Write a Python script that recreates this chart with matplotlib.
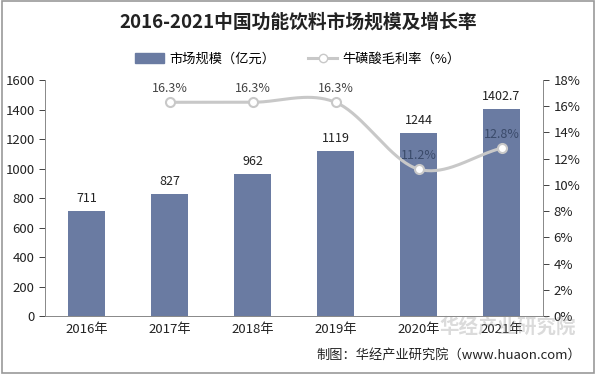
import numpy as np
import matplotlib
matplotlib.use("Agg")
import matplotlib.pyplot as plt
from matplotlib.patches import Rectangle

plt.rcParams['font.family'] = ['Noto Sans CJK SC', 'DejaVu Sans']

years = ['2016年', '2017年', '2018年', '2019年', '2020年', '2021年']
market = [711, 827, 962, 1119, 1244, 1402.7]
market_labels = ['711', '827', '962', '1119', '1244', '1402.7']
margin_years_idx = [1, 2, 3, 4, 5]
margin = [16.3, 16.3, 16.3, 11.2, 12.8]

W, H = 596, 374
fig = plt.figure(figsize=(W/100, H/100), dpi=100)
fig.patch.set_facecolor('white')
fig.add_artist(Rectangle((0.003, 0.003), 0.994, 0.994, transform=fig.transFigure,
                         fill=False, edgecolor='#999999', lw=1.2))

ax = fig.add_axes([45/W, 1-316/H, (543-45)/W, (316-80)/H])
ax2 = ax.twinx()
x = np.arange(len(years))
bar_color = '#6A7BA2'
ax.bar(x, market, width=0.44, color=bar_color, zorder=2)
for xi, v, lab in zip(x, market, market_labels):
    ax.text(xi, v + 40, lab, ha='center', va='bottom', fontsize=9, color='#222222')
ax.set_xlim(-0.5, len(years) - 0.5)
ax.set_ylim(0, 1600)
ax.set_yticks(range(0, 1601, 200))
ax.set_xticks(x)
ax.set_xticklabels(years, fontsize=9.5, color='#222222')
ax.tick_params(axis='y', labelsize=9.5, colors='#222222', length=4, direction='out', width=0.6)
ax.tick_params(axis='x', length=0, pad=5)
for s in ['top', 'right']:
    ax.spines[s].set_visible(False)
ax.spines['left'].set_color('#888888')
ax.spines['bottom'].set_color('#888888')
ax.spines['left'].set_linewidth(0.7)
ax.spines['bottom'].set_linewidth(0.7)

# smooth line (Catmull-Rom through the data points)
px = np.array(margin_years_idx, dtype=float)
py = np.array(margin, dtype=float)
P = np.column_stack([px, py])
Pe = np.vstack([2*P[0]-P[1], P, 2*P[-1]-P[-2]])
curve = []
for i in range(1, len(Pe)-2):
    p0, p1, p2, p3 = Pe[i-1], Pe[i], Pe[i+1], Pe[i+2]
    t = np.linspace(0, 1, 40)[:, None]
    c = 0.5*((2*p1) + (-p0+p2)*t + (2*p0-5*p1+4*p2-p3)*t**2 + (-p0+3*p1-3*p2+p3)*t**3)
    curve.append(c)
curve = np.vstack(curve)
line_color = '#C8C8C8'
ax2.plot(curve[:, 0], curve[:, 1], color=line_color, lw=2.2, zorder=3, solid_capstyle='round')
ax2.plot(px, py, 'o', ms=6.5, mfc='white', mec=line_color, mew=1.5, zorder=4)
for xi, v in zip(px, py):
    col = '#444444' if v > 14 else '#3A4A6A'
    ax2.text(xi, v + 0.55, f'{v:.1f}%', ha='center', va='bottom', fontsize=9, color=col, zorder=5)
ax2.set_ylim(0, 18)
ax2.set_yticks(range(0, 19, 2))
ax2.set_yticklabels([f'{v}%' for v in range(0, 19, 2)])
ax2.tick_params(axis='y', labelsize=9.5, colors='#222222', length=4, width=0.6)
for s in ['top', 'left', 'bottom']:
    ax2.spines[s].set_visible(False)
ax2.spines['right'].set_color('#888888')
ax2.spines['right'].set_linewidth(0.7)
ax.set_zorder(1)
ax2.set_zorder(2)

fig.text(0.5, 1-22/H, '2016-2021中国功能饮料市场规模及增长率', ha='center', va='center',
         fontsize=13.5, fontweight='bold', color='#222222')

# legend
from matplotlib.lines import Line2D
from matplotlib.patches import Patch
handles = [Patch(color=bar_color),
           Line2D([0], [0], color=line_color, lw=2.2, marker='o', ms=6, mfc='white', mec=line_color)]
fig.legend(handles, ['市场规模（亿元）', '牛磺酸毛利率（%）'], loc='center',
           bbox_to_anchor=(0.5, 1-59/H), ncol=2, frameon=False, fontsize=9.5,
           handlelength=2.2, columnspacing=2.5, handletextpad=0.4)

fig.text(508/W, 1-327/H, '华经产业研究院', ha='center', va='center', fontsize=14,
         fontweight='bold', color='#888888', alpha=0.3)
fig.text(0.975, 1-355/H, '制图：华经产业研究院（www.huaon.com）', ha='right', va='center',
         fontsize=9.5, color='#222222')

fig.savefig('out.png', dpi=100, facecolor='white')
